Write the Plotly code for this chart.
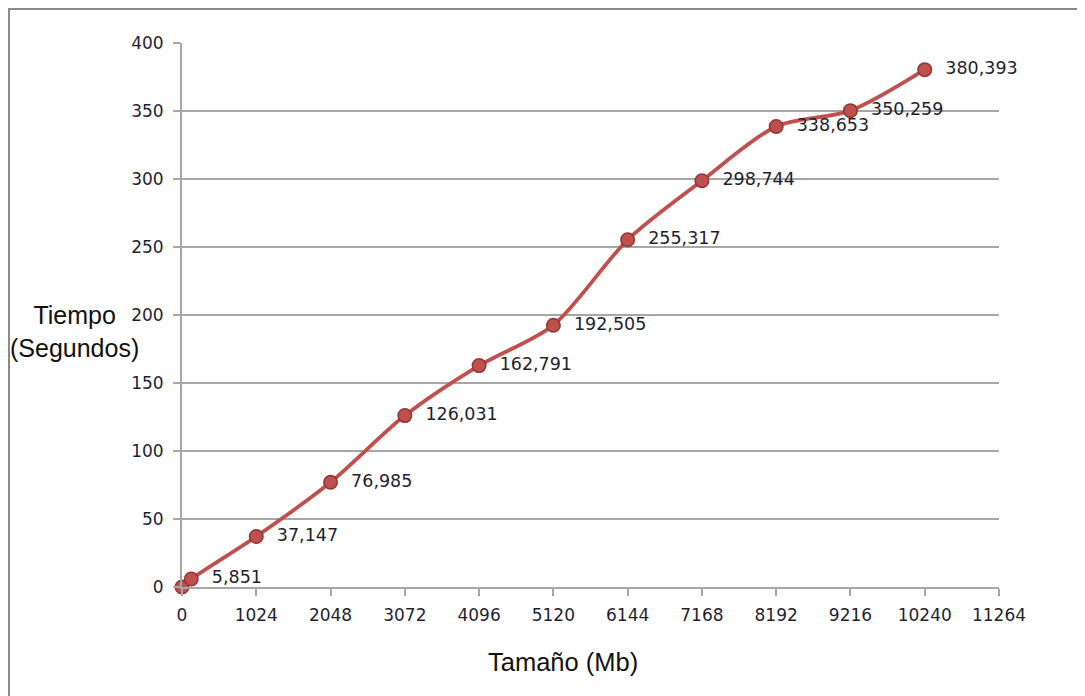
import plotly.graph_objects as go

# Data
tamano_mb = [0, 128, 1024, 2048, 3072, 4096, 5120, 6144, 7168, 8192, 9216, 10240]
tiempo_s = [0.0, 5.851, 37.147, 76.985, 126.031, 162.791, 192.505, 255.317,
            298.744, 338.653, 350.259, 380.393]
x_ticks = [0, 1024, 2048, 3072, 4096, 5120, 6144, 7168, 8192, 9216, 10240, 11264]
y_ticks = [0, 50, 100, 150, 200, 250, 300, 350, 400]

labels = ["" if v == 0 else f"{v:.3f}".replace(".", ",") for v in tiempo_s]

RED = "#C0504D"
GRID = "#a6a6a6"
TXT = "#1f1f2f"


def px(sx):
    return (sx - 182) / 817


def py(sy):
    return (587 - sy) / 544


fig = go.Figure()
fig.add_trace(go.Scatter(
    x=tamano_mb, y=tiempo_s, text=labels,
    mode="lines+markers+text",
    line=dict(color=RED, width=3.8, shape="spline", smoothing=0.8),
    marker=dict(size=13.5, color=RED, line=dict(color="#8C3836", width=1.5)),
    texttemplate="  %{text}",
    textposition="middle right",
    textfont=dict(family="DejaVu Sans", size=17.5, color=TXT),
    cliponaxis=False,
    showlegend=False,
))

fig.update_layout(
    width=1077, height=688,
    margin=dict(l=174, r=86, t=35, b=109),
    paper_bgcolor="white", plot_bgcolor="white",
    xaxis=dict(
        range=[0, 11264], tickvals=x_ticks, ticktext=[str(t) for t in x_ticks],
        showgrid=False, zeroline=False,
        showline=True, linecolor=GRID, linewidth=2,
        ticks="outside", ticklen=7, tickcolor=GRID, tickwidth=2,
        tickfont=dict(family="DejaVu Sans", size=17, color=TXT),
        ticklabelstandoff=5,
    ),
    yaxis=dict(
        range=[0, 400], tickvals=y_ticks,
        showgrid=True, gridcolor=GRID, gridwidth=1.5, zeroline=False,
        showline=True, linecolor=GRID, linewidth=2,
        ticks="outside", ticklen=7, tickcolor=GRID, tickwidth=2,
        tickfont=dict(family="DejaVu Sans", size=17, color=TXT),
        ticklabelstandoff=6,
    ),
    annotations=[
        dict(text="Tamaño (Mb)", xref="paper", yref="paper",
             x=px(563), y=py(662),
             xanchor="center", yanchor="middle", showarrow=False,
             font=dict(family="Liberation Sans", size=25.5, color="#111")),
        dict(text="Tiempo<br>(Segundos)", xref="paper", yref="paper",
             x=px(74), y=py(331),
             xanchor="center", yanchor="middle", showarrow=False,
             font=dict(family="Liberation Sans", size=25, color="#111")),
    ],
    shapes=[
        dict(type="line", xref="paper", yref="paper",
             x0=px(8), x1=px(1090), y0=py(9), y1=py(9),
             line=dict(color="#8a8a8a", width=2)),
        dict(type="line", xref="paper", yref="paper",
             x0=px(9), x1=px(9), y0=py(8), y1=py(700),
             line=dict(color="#8a8a8a", width=2)),
    ],
)

fig.write_html("out.html")
